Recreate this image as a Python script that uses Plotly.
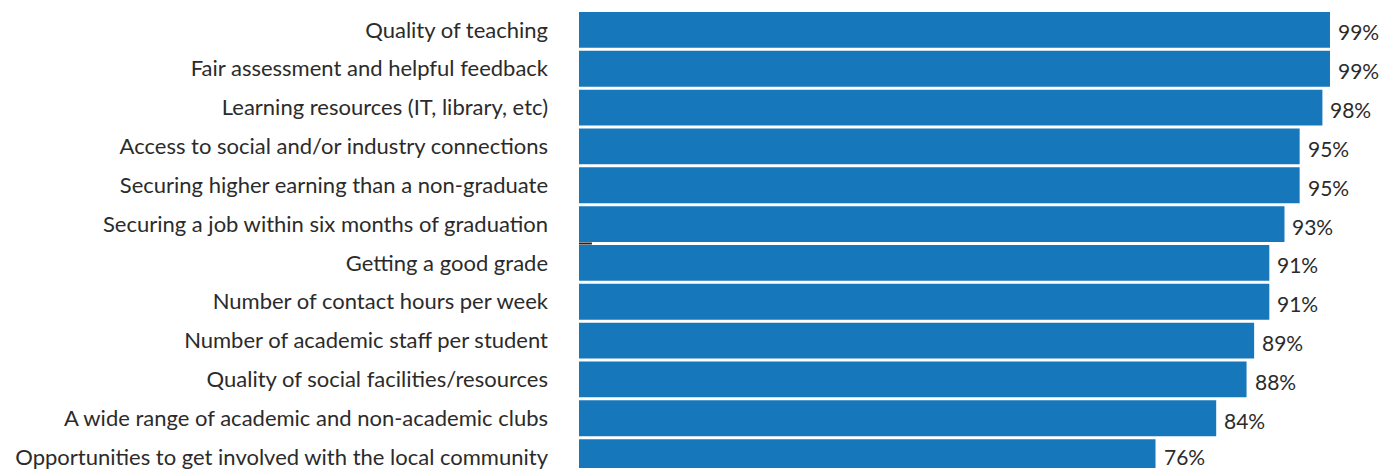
import plotly.graph_objects as go

categories = [
    "Quality of teaching",
    "Fair assessment and helpful feedback",
    "Learning resources (IT, library, etc)",
    "Access to social and/or industry connections",
    "Securing higher earning than a non-graduate",
    "Securing a job within six months of graduation",
    "Getting a good grade",
    "Number of contact hours per week",
    "Number of academic staff per student",
    "Quality of social facilities/resources",
    "A wide range of academic and non-academic clubs",
    "Opportunities to get involved with the local community",
]
values = [99, 99, 98, 95, 95, 93, 91, 91, 89, 88, 84, 76]
labels = [f"{v}%" for v in values]

BAR = "#1777BB"
TXT = "#2b2b2b"
FONT = "Lato"

fig = go.Figure(go.Bar(
    y=categories, x=values, orientation="h",
    marker=dict(color=BAR, line=dict(width=0)),
    hoverinfo="x+y",
))

n = len(categories)
for i, (c, v, t) in enumerate(zip(categories, values, labels)):
    fig.add_annotation(x=v, y=c, text=t, xref="x", yref="y", showarrow=False,
                       xanchor="left", yanchor="middle", xshift=6,
                       yshift=-2 if i < n - 1 else 1,
                       font=dict(family=FONT, size=21, color=TXT))

fig.add_shape(type="line", xref="x", yref="y", x0=0, x1=1.7, y0=5.5, y1=5.5,
              line=dict(color="#222222", width=2))

fig.update_layout(
    width=1395, height=470,
    margin=dict(l=579, r=0, t=0, b=0),
    paper_bgcolor="white", plot_bgcolor="white",
    bargap=0.077, showlegend=False,
    font=dict(family=FONT, color=TXT),
)
fig.update_xaxes(range=[0, 107.57], visible=False)
fig.update_yaxes(range=[11.28, -0.769], showgrid=False, zeroline=False,
                 showline=False, ticks="", ticklabelstandoff=30,
                 tickfont=dict(family=FONT, size=22, color=TXT))

fig.write_html("out.html", config={"displayModeBar": False},
               post_script="document.body.style.margin='0';document.body.style.padding='0';")
